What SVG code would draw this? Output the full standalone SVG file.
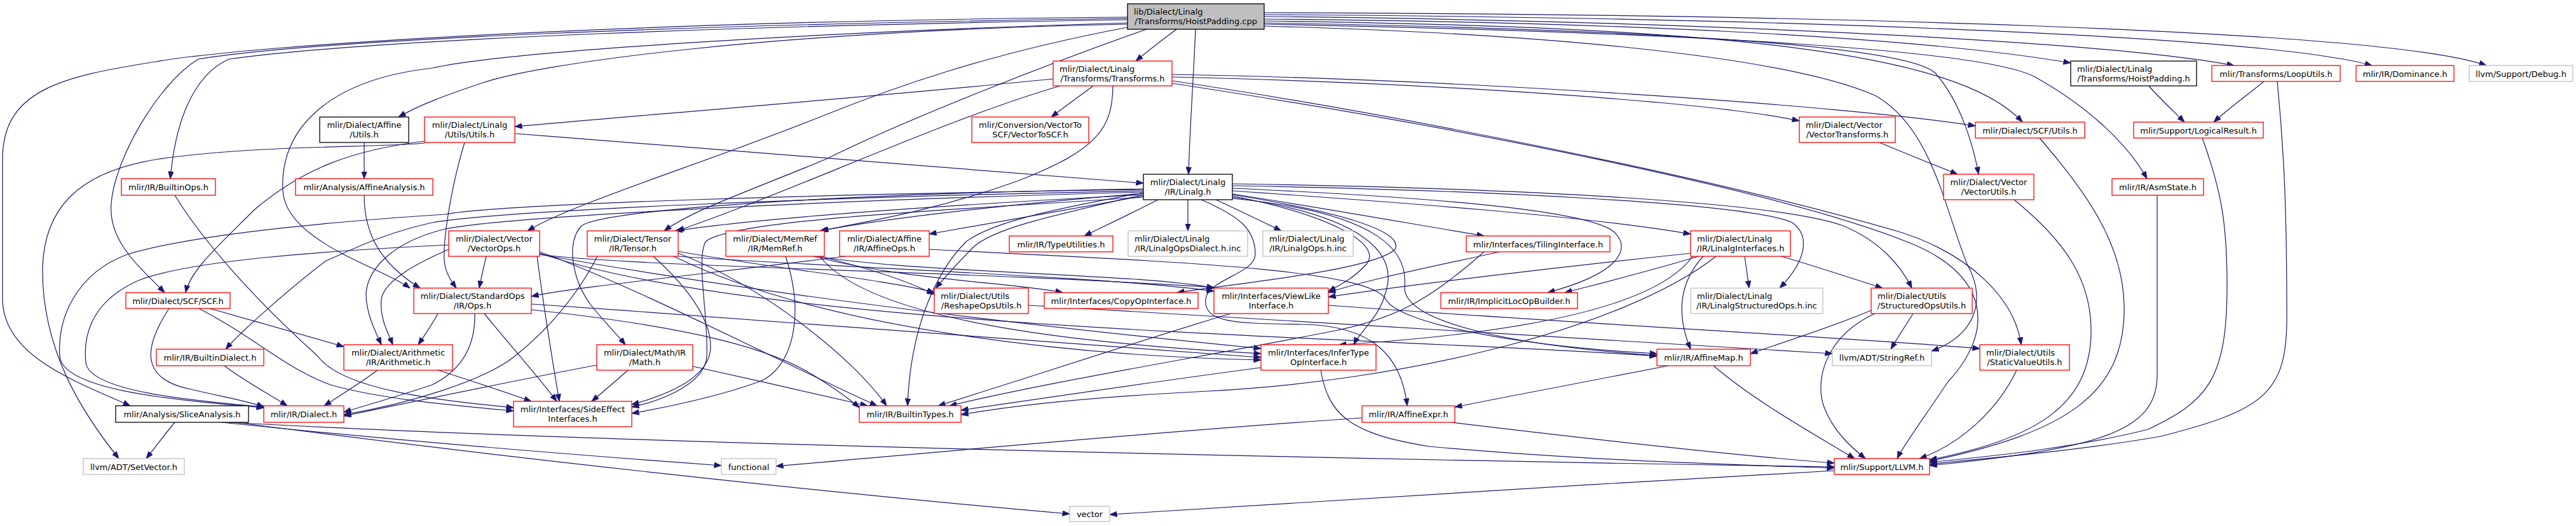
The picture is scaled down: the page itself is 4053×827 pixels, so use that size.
<svg xmlns="http://www.w3.org/2000/svg" width="4053" height="827" viewBox="0 0 4053 827">
<style>
.nd rect{fill:#ffffff;stroke-width:1.3}
.red rect{stroke:#ff0000}
.blk rect{stroke:#000000}
.gry rect{stroke:#bfbfbf}
.root rect{fill:#bfbfbf;stroke:#000000}
text{font-family:"DejaVu Sans","Liberation Sans",sans-serif;font-size:13px;fill:#000000}
.m{text-anchor:middle}
#edges path{fill:none;stroke:#191970;stroke-width:1.2;marker-end:url(#ah)}
</style>
<defs>
<marker id="ah" viewBox="0 0 12 9" refX="11.5" refY="4.5" markerWidth="12" markerHeight="9" markerUnits="userSpaceOnUse" orient="auto"><path d="M0,0 L12,4.5 L0,9 Z" fill="#191970" stroke="#191970" stroke-width="0.5"/></marker>
</defs>
<rect x="0" y="0" width="4053" height="827" fill="#ffffff"/>
<g id="edges">
<path d="M1881,46 C1878,120 1872,200 1870,274"/>
<path d="M1851,46 C1830,62 1806,80 1787,96"/>
<path d="M1989,30 C2500,34 3000,55 3258,99"/>
<path d="M1989,26 C2600,32 3300,62 3515,103"/>
<path d="M1989,23 C2700,27 3550,52 3732,103"/>
<path d="M1989,20 C2800,22 3750,45 3912,103"/>
<path d="M1989,33 C2700,42 3080,80 3182,192"/>
<path d="M1989,36 C2600,46 3000,72 3045,115 C3085,160 3105,230 3113,274"/>
<path d="M1989,38 C2700,52 3120,80 3200,120 C3290,170 3350,230 3378,281"/>
<path d="M1989,41 C2400,52 2800,85 2950,150 C3040,200 3060,330 3095,415 C3130,480 3100,530 3039,552"/>
<path d="M1804,46 C1650,100 1420,190 1300,250 C1180,300 1090,330 1045,363"/>
<path d="M1774,43 C1550,85 1400,140 1300,180 C1100,260 900,320 830,363"/>
<path d="M1774,36 C1300,50 800,80 680,107 C520,125 440,200 445,300 C450,380 600,420 645,453"/>
<path d="M1774,38 C1200,50 850,100 760,130 C700,150 660,165 627,184"/>
<path d="M1774,31 C1200,40 600,60 360,93 C300,120 275,200 268,281"/>
<path d="M1774,29 C1100,38 500,62 312,93 C250,130 180,250 175,320 C170,380 220,420 259,460"/>
<path d="M1774,27 C1000,33 400,70 245,97 C100,120 4,140 4,250 L4,470 C4,560 120,600 205,638"/>
<path d="M1720,135 C1700,150 1675,168 1654,184"/>
<path d="M1657,124 C1400,150 1000,182 810,199"/>
<path d="M1844,117 C2300,125 2900,165 3108,198"/>
<path d="M1844,121 C2300,132 2700,162 2831,190"/>
<path d="M1844,127 C2200,180 2700,280 2990,365 C3100,400 3170,470 3180,542"/>
<path d="M1668,135 C1480,190 1250,300 1065,363"/>
<path d="M1751,135 C1750,200 1730,235 1600,285 C1460,335 1350,350 1292,363"/>
<path d="M1844,131 C2300,200 2800,300 3000,380 C3130,430 3140,520 3065,600 C3025,660 2995,700 2985,721"/>
<path d="M3381,135 C3395,152 3420,175 3437,192"/>
<path d="M3562,128 C3535,150 3505,172 3483,192"/>
<path d="M3583,128 C3595,250 3598,350 3598,500 C3598,620 3560,645 3400,686 C3250,712 3100,722 3036,730"/>
<path d="M3465,217 C3495,300 3504,350 3504,450 C3504,600 3470,632 3380,675 C3250,708 3100,720 3036,727"/>
<path d="M2957,224 C3000,242 3045,260 3080,274"/>
<path d="M3209,217 C3280,300 3340,380 3342,480 C3345,620 3250,680 3036,725"/>
<path d="M3169,314 C3250,380 3290,440 3290,520 C3290,640 3200,690 3036,723"/>
<path d="M3394,307 L3394,590 C3394,680 3300,705 3036,732"/>
<path d="M573,224 L573,281"/>
<path d="M573,307 C573,370 600,415 661,453"/>
<path d="M810,210 C1200,240 1600,272 1799,288"/>
<path d="M731,224 C708,300 697,380 699,410 C701,430 710,442 718,453"/>
<path d="M668,222 C560,235 480,262 400,330 C340,390 300,425 292,460"/>
<path d="M668,225 C600,232 400,228 250,250 C120,270 70,330 67,420 C65,550 130,650 187,721"/>
<path d="M1869,314 L1869,363"/>
<path d="M1822,314 C1785,333 1745,352 1706,371"/>
<path d="M1913,314 C1948,330 1985,348 2016,363"/>
<path d="M1799,308 C1680,330 1550,352 1462,368"/>
<path d="M1939,305 C2070,325 2210,350 2335,371"/>
<path d="M1939,300 C2200,318 2500,340 2660,368"/>
<path d="M1939,296 C2250,310 2500,330 2540,365 C2570,395 2540,432 2435,460"/>
<path d="M1939,292 C2300,298 2750,318 2820,350 C2850,372 2840,412 2800,453"/>
<path d="M1939,289 C2400,296 2800,318 2900,355 C2960,380 2992,420 3008,453"/>
<path d="M1939,312 C2180,335 2215,400 2210,450 C2205,510 2400,545 2607,559"/>
<path d="M1890,314 C1950,340 1975,360 1975,400 C1975,430 1900,440 1897,470 C1893,510 1950,508 2050,510 C2160,512 2205,560 2214,638"/>
<path d="M1939,310 C2150,340 2200,400 2180,460 C2170,500 2140,520 2130,542"/>
<path d="M1939,308 C2100,340 2175,385 2150,415 C2130,438 2105,450 2090,458"/>
<path d="M1939,306 C2100,332 2210,362 2195,392 C2160,425 1950,445 1852,460"/>
<path d="M1799,306 C1650,340 1560,360 1530,390 C1505,415 1485,438 1472,453"/>
<path d="M1799,303 C1650,330 1560,350 1520,380 C1470,430 1432,520 1428,638"/>
<path d="M1799,310 C1500,330 1150,345 1110,380 C1095,410 1115,500 1112,560 C1110,600 1050,628 994,640"/>
<path d="M1799,298 C1300,305 800,320 700,337 C500,350 300,370 200,400 C120,430 90,500 94,560 C98,610 250,628 415,641"/>
<path d="M1799,300 C1300,310 800,330 680,350 C600,368 560,390 513,410 C460,450 380,520 355,549"/>
<path d="M1799,302 C1300,315 800,340 700,360 C620,380 580,420 576,460 C575,490 590,520 600,542"/>
<path d="M1799,297 C1300,305 950,330 915,355 C890,380 900,440 930,480 C950,505 970,525 984,542"/>
<path d="M1799,304 C1600,320 1400,342 1290,363"/>
<path d="M1799,306 C1500,322 1200,342 1062,363"/>
<path d="M1028,403 C1080,450 1118,500 1118,545 C1118,590 1060,618 994,636"/>
<path d="M1067,398 C1200,450 1340,560 1395,638"/>
<path d="M940,403 C905,470 860,520 810,560 C760,600 640,635 541,652"/>
<path d="M1060,403 C1300,520 1700,560 1984,566"/>
<path d="M1067,403 C1300,420 1750,435 1910,458"/>
<path d="M1067,395 C1200,420 1400,440 1470,460"/>
<path d="M1290,403 C1380,425 1435,445 1470,463"/>
<path d="M1280,403 C1420,440 1600,445 1672,460"/>
<path d="M1285,403 C1450,430 1800,430 1910,453"/>
<path d="M1290,403 C1380,520 1800,545 1984,556"/>
<path d="M1236,403 C1268,500 1245,580 1195,600 C1125,625 1050,640 994,650"/>
<path d="M765,403 C761,420 757,437 754,453"/>
<path d="M706,392 C660,412 605,440 600,470 C597,500 610,522 618,542"/>
<path d="M849,396 C1000,450 1250,580 1380,638"/>
<path d="M706,385 C500,395 300,410 220,440 C150,470 130,520 135,570 C140,615 300,630 418,640"/>
<path d="M845,403 C855,480 868,560 880,631"/>
<path d="M849,398 C1200,520 2200,530 2607,560"/>
<path d="M849,400 C1300,480 1800,530 1984,548"/>
<path d="M849,400 C1000,420 1500,425 1910,452"/>
<path d="M1330,403 C1100,432 900,452 836,466"/>
<path d="M1462,392 C1800,410 2150,420 2180,470 C2200,510 2400,545 2607,556"/>
<path d="M689,493 C680,510 668,527 658,542"/>
<path d="M747,493 C748,540 730,580 680,605 C620,625 580,636 541,648"/>
<path d="M762,493 C800,540 845,590 876,631"/>
<path d="M836,478 C1300,510 1800,545 1984,562"/>
<path d="M836,487 C1050,510 1200,540 1280,590 C1320,615 1340,630 1352,641"/>
<path d="M266,485 C230,540 215,595 300,612 C350,624 390,630 415,640"/>
<path d="M330,485 C400,505 480,527 541,545"/>
<path d="M313,485 C400,530 450,580 520,605 C600,628 720,638 808,646"/>
<path d="M275,307 C320,380 400,470 500,560 C540,615 700,630 808,641"/>
<path d="M353,575 C380,596 420,618 452,638"/>
<path d="M594,582 C570,600 535,622 510,638"/>
<path d="M689,582 C740,598 790,615 836,631"/>
<path d="M988,582 C970,598 950,615 931,631"/>
<path d="M939,574 C800,600 650,632 541,654"/>
<path d="M1090,576 C1180,596 1280,618 1365,638"/>
<path d="M275,664 C260,682 245,702 230,721"/>
<path d="M348,664 C600,690 900,715 1135,732"/>
<path d="M360,664 C1000,700 2300,725 2886,734"/>
<path d="M370,664 C800,720 1300,775 1683,808"/>
<path d="M2143,657 C1800,680 1400,718 1221,733"/>
<path d="M2283,664 C2500,690 2750,718 2886,728"/>
<path d="M2625,575 C2510,597 2400,618 2289,640"/>
<path d="M2696,575 C2760,630 2850,680 2918,721"/>
<path d="M2886,740 C2500,760 2000,795 1746,809"/>
<path d="M1984,578 C1830,598 1670,622 1512,645"/>
<path d="M2078,582 C2090,650 2120,682 2250,702 C2500,725 2750,731 2886,736"/>
<path d="M1936,493 C1780,540 1630,590 1476,638"/>
<path d="M2090,480 C2500,510 2900,530 3115,548"/>
<path d="M2359,396 C2250,420 2150,440 2090,460"/>
<path d="M2335,396 C2250,470 2200,500 2100,520 C1900,560 1650,600 1494,638"/>
<path d="M2803,403 C2860,420 2915,438 2962,453"/>
<path d="M2745,403 L2752,453"/>
<path d="M2680,403 C2645,440 2635,490 2660,549"/>
<path d="M2672,403 C2600,425 2520,445 2462,460"/>
<path d="M2665,400 C2600,500 2300,530 2107,542"/>
<path d="M2662,398 C2450,420 2200,450 2090,467"/>
<path d="M2700,403 C2550,520 2200,600 1900,615 C1700,625 1580,640 1512,652"/>
<path d="M2944,488 C2880,515 2800,540 2754,556"/>
<path d="M3010,493 C2998,512 2985,532 2975,549"/>
<path d="M2950,493 C2870,530 2855,600 2870,640 C2885,680 2915,705 2935,721"/>
<path d="M3173,582 C3140,650 3080,700 3020,721"/>
<path d="M1618,480 C2000,505 2600,535 2883,556"/>
</g>
<g id="n0" class="nd root"><rect x="1774" y="6" width="215" height="40"/><text x="1784" y="23">lib/Dialect/Linalg</text><text class="m" x="1881.5" y="38">/Transforms/HoistPadding.cpp</text></g>
<g id="n1" class="nd red"><rect x="1657" y="96" width="187" height="39"/><text x="1667" y="113">mlir/Dialect/Linalg</text><text class="m" x="1750.5" y="128">/Transforms/Transforms.h</text></g>
<g id="n2" class="nd blk"><rect x="3258" y="96" width="198" height="39"/><text x="3268" y="113">mlir/Dialect/Linalg</text><text class="m" x="3357" y="128">/Transforms/HoistPadding.h</text></g>
<g id="n3" class="nd red"><rect x="3480" y="103" width="202" height="25"/><text class="m" x="3581" y="120.5">mlir/Transforms/LoopUtils.h</text></g>
<g id="n4" class="nd red"><rect x="3707" y="103" width="154" height="25"/><text class="m" x="3784" y="120.5">mlir/IR/Dominance.h</text></g>
<g id="n5" class="nd gry"><rect x="3885" y="103" width="163" height="25"/><text class="m" x="3966.5" y="120.5">llvm/Support/Debug.h</text></g>
<g id="n6" class="nd blk"><rect x="503" y="184" width="140" height="40"/><text class="m" x="573" y="201">mlir/Dialect/Affine</text><text class="m" x="573" y="216">/Utils.h</text></g>
<g id="n7" class="nd red"><rect x="668" y="184" width="142" height="40"/><text class="m" x="739" y="201">mlir/Dialect/Linalg</text><text class="m" x="739" y="216">/Utils/Utils.h</text></g>
<g id="n8" class="nd red"><rect x="1529" y="184" width="184" height="40"/><text class="m" x="1621" y="201">mlir/Conversion/VectorTo</text><text class="m" x="1621" y="216">SCF/VectorToSCF.h</text></g>
<g id="n9" class="nd red"><rect x="2831" y="184" width="151" height="40"/><text x="2841" y="201">mlir/Dialect/Vector</text><text class="m" x="2906.5" y="216">/VectorTransforms.h</text></g>
<g id="n10" class="nd red"><rect x="3108" y="192" width="172" height="25"/><text class="m" x="3194" y="209.5">mlir/Dialect/SCF/Utils.h</text></g>
<g id="n11" class="nd red"><rect x="3357" y="192" width="204" height="25"/><text class="m" x="3459" y="209.5">mlir/Support/LogicalResult.h</text></g>
<g id="n12" class="nd red"><rect x="191" y="281" width="148" height="26"/><text class="m" x="265" y="298.5">mlir/IR/BuiltinOps.h</text></g>
<g id="n13" class="nd red"><rect x="465" y="281" width="216" height="26"/><text class="m" x="573" y="298.5">mlir/Analysis/AffineAnalysis.h</text></g>
<g id="n14" class="nd blk"><rect x="1799" y="274" width="140" height="40"/><text class="m" x="1869" y="291">mlir/Dialect/Linalg</text><text class="m" x="1869" y="306">/IR/Linalg.h</text></g>
<g id="n15" class="nd red"><rect x="3058" y="274" width="142" height="40"/><text class="m" x="3129" y="291">mlir/Dialect/Vector</text><text class="m" x="3129" y="306">/VectorUtils.h</text></g>
<g id="n16" class="nd red"><rect x="3323" y="281" width="144" height="26"/><text class="m" x="3395" y="298.5">mlir/IR/AsmState.h</text></g>
<g id="n17" class="nd red"><rect x="706" y="363" width="143" height="40"/><text class="m" x="777.5" y="380">mlir/Dialect/Vector</text><text class="m" x="777.5" y="395">/VectorOps.h</text></g>
<g id="n18" class="nd red"><rect x="924" y="363" width="143" height="40"/><text class="m" x="995.5" y="380">mlir/Dialect/Tensor</text><text class="m" x="995.5" y="395">/IR/Tensor.h</text></g>
<g id="n19" class="nd red"><rect x="1142" y="363" width="155" height="40"/><text class="m" x="1219.5" y="380">mlir/Dialect/MemRef</text><text class="m" x="1219.5" y="395">/IR/MemRef.h</text></g>
<g id="n20" class="nd red"><rect x="1321" y="363" width="141" height="40"/><text class="m" x="1391.5" y="380">mlir/Dialect/Affine</text><text class="m" x="1391.5" y="395">/IR/AffineOps.h</text></g>
<g id="n21" class="nd red"><rect x="1588" y="371" width="163" height="25"/><text class="m" x="1669.5" y="388.5">mlir/IR/TypeUtilities.h</text></g>
<g id="n22" class="nd gry"><rect x="1775" y="363" width="188" height="40"/><text x="1785" y="380">mlir/Dialect/Linalg</text><text class="m" x="1869" y="395">/IR/LinalgOpsDialect.h.inc</text></g>
<g id="n23" class="nd gry"><rect x="1987" y="363" width="142" height="40"/><text x="1997" y="380">mlir/Dialect/Linalg</text><text class="m" x="2058" y="395">/IR/LinalgOps.h.inc</text></g>
<g id="n24" class="nd red"><rect x="2307" y="371" width="226" height="25"/><text class="m" x="2420" y="388.5">mlir/Interfaces/TilingInterface.h</text></g>
<g id="n25" class="nd red"><rect x="2660" y="363" width="157" height="40"/><text x="2670" y="380">mlir/Dialect/Linalg</text><text class="m" x="2738.5" y="395">/IR/LinalgInterfaces.h</text></g>
<g id="n26" class="nd red"><rect x="651" y="453" width="185" height="40"/><text class="m" x="743.5" y="470">mlir/Dialect/StandardOps</text><text class="m" x="743.5" y="485">/IR/Ops.h</text></g>
<g id="n27" class="nd red"><rect x="198" y="460" width="164" height="25"/><text class="m" x="280" y="477.5">mlir/Dialect/SCF/SCF.h</text></g>
<g id="n28" class="nd red"><rect x="1470" y="453" width="148" height="40"/><text x="1480" y="470">mlir/Dialect/Utils</text><text class="m" x="1544" y="485">/ReshapeOpsUtils.h</text></g>
<g id="n29" class="nd red"><rect x="1643" y="460" width="242" height="25"/><text class="m" x="1764" y="477.5">mlir/Interfaces/CopyOpInterface.h</text></g>
<g id="n30" class="nd red"><rect x="1910" y="453" width="180" height="40"/><text class="m" x="2000" y="470">mlir/Interfaces/ViewLike</text><text class="m" x="2000" y="485">Interface.h</text></g>
<g id="n31" class="nd red"><rect x="2267" y="460" width="215" height="25"/><text class="m" x="2374.5" y="477.5">mlir/IR/ImplicitLocOpBuilder.h</text></g>
<g id="n32" class="nd gry"><rect x="2660" y="453" width="208" height="40"/><text x="2670" y="470">mlir/Dialect/Linalg</text><text class="m" x="2764" y="485">/IR/LinalgStructuredOps.h.inc</text></g>
<g id="n33" class="nd red"><rect x="2944" y="453" width="159" height="40"/><text x="2954" y="470">mlir/Dialect/Utils</text><text class="m" x="3023.5" y="485">/StructuredOpsUtils.h</text></g>
<g id="n34" class="nd red"><rect x="246" y="549" width="169" height="26"/><text class="m" x="330.5" y="566.5">mlir/IR/BuiltinDialect.h</text></g>
<g id="n35" class="nd red"><rect x="541" y="542" width="171" height="40"/><text class="m" x="626.5" y="559">mlir/Dialect/Arithmetic</text><text class="m" x="626.5" y="574">/IR/Arithmetic.h</text></g>
<g id="n36" class="nd red"><rect x="939" y="542" width="151" height="40"/><text class="m" x="1014.5" y="559">mlir/Dialect/Math/IR</text><text class="m" x="1014.5" y="574">/Math.h</text></g>
<g id="n37" class="nd red"><rect x="1984" y="542" width="181" height="40"/><text class="m" x="2074.5" y="559">mlir/Interfaces/InferType</text><text class="m" x="2074.5" y="574">OpInterface.h</text></g>
<g id="n38" class="nd red"><rect x="2607" y="549" width="147" height="26"/><text class="m" x="2680.5" y="566.5">mlir/IR/AffineMap.h</text></g>
<g id="n39" class="nd gry"><rect x="2883" y="549" width="156" height="26"/><text class="m" x="2961" y="566.5">llvm/ADT/StringRef.h</text></g>
<g id="n40" class="nd red"><rect x="3115" y="542" width="141" height="40"/><text x="3125" y="559">mlir/Dialect/Utils</text><text class="m" x="3185.5" y="574">/StaticValueUtils.h</text></g>
<g id="n41" class="nd blk"><rect x="182" y="638" width="209" height="26"/><text class="m" x="286.5" y="655.5">mlir/Analysis/SliceAnalysis.h</text></g>
<g id="n42" class="nd red"><rect x="415" y="638" width="126" height="26"/><text class="m" x="478" y="655.5">mlir/IR/Dialect.h</text></g>
<g id="n43" class="nd red"><rect x="808" y="631" width="186" height="40"/><text class="m" x="901" y="648">mlir/Interfaces/SideEffect</text><text class="m" x="901" y="663">Interfaces.h</text></g>
<g id="n44" class="nd red"><rect x="1352" y="638" width="160" height="26"/><text class="m" x="1432" y="655.5">mlir/IR/BuiltinTypes.h</text></g>
<g id="n45" class="nd red"><rect x="2143" y="638" width="146" height="26"/><text class="m" x="2216" y="655.5">mlir/IR/AffineExpr.h</text></g>
<g id="n46" class="nd gry"><rect x="131" y="721" width="159" height="25"/><text class="m" x="210.5" y="738.5">llvm/ADT/SetVector.h</text></g>
<g id="n47" class="nd gry"><rect x="1135" y="721" width="86" height="25"/><text class="m" x="1178" y="738.5">functional</text></g>
<g id="n48" class="nd red"><rect x="2886" y="721" width="150" height="25"/><text class="m" x="2961" y="738.5">mlir/Support/LLVM.h</text></g>
<g id="n49" class="nd gry"><rect x="1683" y="796" width="63" height="24"/><text class="m" x="1714.5" y="813">vector</text></g>
</svg>
